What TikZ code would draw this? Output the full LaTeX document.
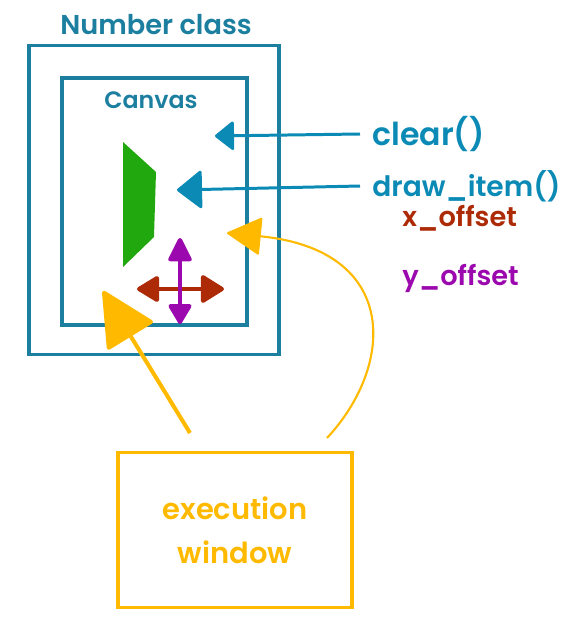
\documentclass[tikz,border=0pt]{standalone}
\usepackage{fontspec}
\setmainfont{Poppins}[UprightFont=* SemiBold]
\usepackage{tikz}
\usetikzlibrary{arrows.meta}

\definecolor{numteal}{HTML}{1C7FA0}
\definecolor{arrteal}{HTML}{0B8AB5}
\definecolor{itemgreen}{HTML}{22A80F}
\definecolor{xred}{HTML}{AD2A06}
\definecolor{ypurple}{HTML}{9B08AE}
\definecolor{winorange}{HTML}{FFBA00}

\tikzset{
  classbox/.style={draw=numteal,line width=1.8pt,minimum width=5cm,minimum height=6.18cm},
  canvasbox/.style={draw=numteal,line width=1.8pt,minimum width=3.7cm,minimum height=4.94cm},
  winbox/.style={draw=winorange,line width=1.8pt,minimum width=4.68cm,minimum height=3.1cm},
  label/.style={anchor=west,inner sep=0pt},
  bigfont/.style={font=\fontsize{18}{21}\selectfont},
  midfont/.style={font=\fontsize{15.5}{19}\selectfont},
  smallfont/.style={font=\fontsize{13.5}{17}\selectfont}
}

\begin{document}
\begin{tikzpicture}[x=0.02cm,y=-0.02cm]
  \useasboundingbox (0,0) rectangle (573,625);
   \draw (154,200) node[classbox] (numbox) {};
  \draw (156,25) node[midfont,text=numteal] (number) {Number class};
  \draw (154.5,201.5) node[canvasbox] (canvas) {};
      \draw (151,100) node[smallfont,text=numteal] (canvastxt) {Canvas};
  \draw (372,134) node[bigfont,text=arrteal,label] (clear) {clear()};
  \draw (372,186) node[font=\fontsize{16}{20}\selectfont,text=arrteal,label] (drawitem) {draw\_item()};
	\draw (402,218) node[midfont,text=xred,label] (xoff) {x\_offset};
	\draw (402,278) node[midfont,text=ypurple,label] (yoff) {y\_offset};
  \draw (235,530) node[winbox] (window) {};
  \draw (235,530) node[font=\fontsize{16.5}{25}\selectfont,text=winorange,align=center] (wintxt) {execution\\window};

	\fill[itemgreen] (123,142) -- (156,172) -- (154,237) -- (123,267) -- cycle;

  \coordinate (cleartip) at (215,136);
  \coordinate (itemtip) at (177,190);
  \coordinate (xleft) at (137,289);
  \coordinate (xright) at (224,289);
  \coordinate (ytop) at (180,238);
  \coordinate (ybot) at (180,324);
  \coordinate (winleft) at (190,433);
  \coordinate (winright) at (327,438);
  \coordinate (lowtip) at (103,291);
  \coordinate (hightip) at (227,233);

     \draw[arrteal,line width=1.7pt,-{Triangle[length=0.4cm,width=0.62cm,round]}] (clear.west) ++(-12,0) -- (cleartip);
     \draw[arrteal,line width=1.7pt,-{Triangle[length=0.52cm,width=0.8cm,round]}] (drawitem.west) ++(-12,0) -- (itemtip);
    \draw[xred,line width=2.3pt,{Triangle[length=0.48cm,width=0.56cm,round]}-{Triangle[length=0.5cm,width=0.6cm,round]}] (xleft) -- (xright);
    \draw[ypurple,line width=2.3pt,{Triangle[length=0.52cm,width=0.5cm,round]}-{Triangle[length=0.44cm,width=0.5cm,round]}] (ytop) -- (ybot);
 	  \draw[winorange,line width=2.3pt,-{Triangle[length=1.12cm,width=1.1cm,round]}] (winleft) -- (lowtip);
	  \draw[winorange,line width=1.2pt,-{Triangle[length=0.7cm,width=0.76cm,round]}] (winright) .. controls (395,365) and (400,250) .. (hightip);

\end{tikzpicture}
\end{document}
